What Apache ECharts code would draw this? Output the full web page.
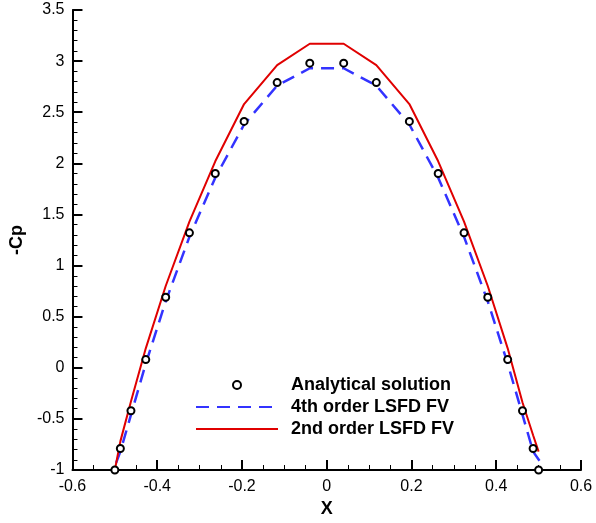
<!DOCTYPE html>
<html>
<head>
<meta charset="utf-8">
<script src="https://cdn.jsdelivr.net/npm/echarts@6/dist/echarts.min.js"></script>
<style>html,body{margin:0;padding:0;background:#fff;}#c{width:596px;height:523px;}</style>
</head>
<body>
<div id="c"></div>
<script>
// Analytical solution points
const xExact = [-0.5, -0.487, -0.462, -0.427, -0.38, -0.324, -0.263, -0.195, -0.117, -0.04, 0.04, 0.117, 0.195, 0.263, 0.324, 0.38, 0.427, 0.462, 0.487, 0.5];
const yExact = [-1.0, -0.79, -0.42, 0.08, 0.69, 1.32, 1.90, 2.41, 2.79, 2.98, 2.98, 2.79, 2.41, 1.90, 1.32, 0.69, 0.08, -0.42, -0.79, -1.0];
// 4th order LSFD FV
const x4th = [-0.497, -0.487, -0.462, -0.427, -0.38, -0.324, -0.263, -0.195, -0.117, -0.04, 0.04, 0.117, 0.195, 0.263, 0.324, 0.38, 0.427, 0.462, 0.487, 0.502];
const y4th = [-0.93, -0.82, -0.46, 0.04, 0.65, 1.28, 1.86, 2.38, 2.76, 2.93, 2.93, 2.76, 2.38, 1.86, 1.28, 0.65, 0.04, -0.46, -0.82, -0.91];
// 2nd order LSFD FV
const x2nd = [-0.5, -0.487, -0.462, -0.427, -0.38, -0.324, -0.263, -0.195, -0.117, -0.04, 0.04, 0.117, 0.195, 0.263, 0.324, 0.38, 0.427, 0.462, 0.487, 0.5];
const y2nd = [-1.0, -0.72, -0.33, 0.19, 0.80, 1.43, 2.02, 2.58, 2.96, 3.17, 3.17, 2.96, 2.58, 2.02, 1.43, 0.80, 0.19, -0.34, -0.66, -0.82];

const names = ['Analytical solution', '4th order LSFD FV', '2nd order LSFD FV'];

const zip = (xs, ys) => xs.map((x, i) => [x, ys[i]]);
const font = '"Liberation Sans", Arial, sans-serif';

const chart = echarts.init(document.getElementById('c'), null, {renderer: 'canvas'});
chart.setOption({
  animation: false,
  backgroundColor: '#fff',
  grid: {left: 69, right: 15, top: 10, bottom: 49, containLabel: false},
  legend: {
    data: [
      {name: names[0]},
      {name: names[1], itemStyle: {opacity: 0}},
      {name: names[2], itemStyle: {opacity: 0}}
    ],
    orient: 'vertical',
    left: 195,
    top: 374,
    padding: 0,
    itemWidth: 82,
    itemHeight: 8,
    itemGap: 0,
    textStyle: {fontFamily: font, fontWeight: 'bold', fontSize: 18, color: '#000', lineHeight: 22, padding: [0, 0, 0, 8]}
  },
  xAxis: {
    type: 'value', min: -0.6, max: 0.6, interval: 0.2,
    name: 'X', nameLocation: 'middle', nameGap: 30,
    nameTextStyle: {fontFamily: font, fontWeight: 'bold', fontSize: 18, color: '#000'},
    axisLine: {show: true, onZero: false, lineStyle: {color: '#000', width: 2}},
    axisTick: {show: true, inside: true, length: 10, lineStyle: {color: '#000', width: 2}},
    minorTick: {show: true, splitNumber: 4, length: 5, lineStyle: {color: '#000', width: 1}},
    axisLabel: {fontFamily: font, fontSize: 16, color: '#000', margin: 9},
    splitLine: {show: false}
  },
  yAxis: {
    type: 'value', min: -1, max: 3.5, interval: 0.5,
    name: '-Cp', nameLocation: 'middle', nameGap: 35, nameRotate: 90,
    nameTextStyle: {fontFamily: font, fontWeight: 'bold', fontSize: 18, color: '#000'},
    axisLine: {show: true, onZero: false, lineStyle: {color: '#000', width: 2}},
    axisTick: {show: true, inside: true, length: 10, lineStyle: {color: '#000', width: 2}},
    minorTick: {show: true, splitNumber: 5, length: 5, lineStyle: {color: '#000', width: 1}},
    axisLabel: {fontFamily: font, fontSize: 16, color: '#000', margin: 8},
    splitLine: {show: false}
  },
  series: [
    {
      name: names[1], type: 'line', data: zip(x4th, y4th),
      symbol: 'none', z: 2,
      lineStyle: {color: '#3333ff', width: 2.5, type: [13, 8]},
      itemStyle: {color: '#3333ff'}
    },
    {
      name: names[2], type: 'line', data: zip(x2nd, y2nd),
      symbol: 'none', z: 3,
      lineStyle: {color: '#e00000', width: 2},
      itemStyle: {color: '#e00000'}
    },
    {
      name: names[0], type: 'scatter', data: zip(xExact, yExact),
      symbol: 'circle', symbolSize: 7, symbolKeepAspect: true, z: 4,
      itemStyle: {color: '#fff', borderColor: '#000', borderWidth: 2, opacity: 1}
    }
  ]
});
</script>
</body>
</html>
